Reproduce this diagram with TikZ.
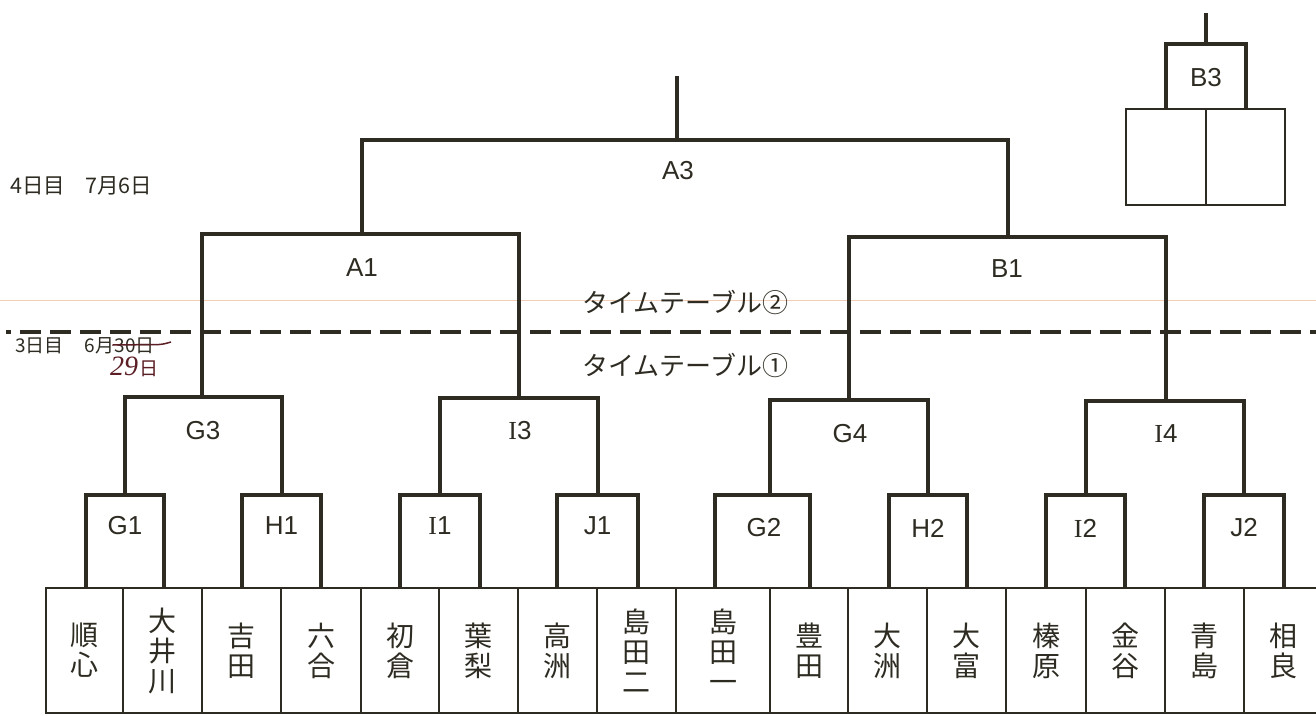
\documentclass[tikz,border=0pt]{standalone}
\usepackage{fontspec}
\newfontfamily\jpfont{Noto Sans CJK JP}
\newfontfamily\labfont{Liberation Sans}
\newfontfamily\labserif{Liberation Serif}
\definecolor{ink}{HTML}{2E2C22}
\definecolor{pen}{HTML}{5A1E24}
\definecolor{ruled}{HTML}{F2CDB4}
\begin{document}
\begin{tikzpicture}[x=1pt,y=-1pt,
  bracket/.style={draw=ink, line width=4pt, line join=miter},
  thinbox/.style={draw=ink, line width=1.8pt, inner sep=0pt},
  lab/.style={font=\labfont\fontsize{26}{26}\selectfont, text=ink, inner sep=0pt},
  team/.style={draw=ink, line width=1.8pt, minimum height=125pt, inner sep=0pt, align=center, text=ink, font=\jpfont\fontsize{28}{30}\selectfont},
  note/.style={font=\jpfont\fontsize{19}{19}\selectfont, text=ink, inner sep=0pt, anchor=west},
  ttl/.style={font=\jpfont\fontsize{26}{26}\selectfont, text=ink, inner sep=0pt, anchor=west}]
\useasboundingbox (0,0) rectangle (1316,715);
\fill[white] (0,0) rectangle (1316,715);
% faint ruled line of the paper
\draw[ruled, line width=1pt] (0,300) -- (1316,300);

% team boxes
\node[team, minimum width=77pt] (t1) at (84.5,650.5) {順\\心};
\node[team, minimum width=79pt] (t2) at (162.5,650.5) {大\\井\\川};
\node[team, minimum width=79pt] (t3) at (241.5,650.5) {吉\\田};
\node[team, minimum width=80pt] (t4) at (321,650.5) {六\\合};
\node[team, minimum width=78pt] (t5) at (400,650.5) {初\\倉};
\node[team, minimum width=79pt] (t6) at (478.5,650.5) {葉\\梨};
\node[team, minimum width=79pt] (t7) at (557.5,650.5) {高\\洲};
\node[team, minimum width=79pt] (t8) at (636.5,650.5) {島\\田\\二};
\node[team, minimum width=94pt] (t9) at (723,650.5) {島\\田\\一};
\node[team, minimum width=78pt] (t10) at (809,650.5) {豊\\田};
\node[team, minimum width=79pt] (t11) at (887.5,650.5) {大\\洲};
\node[team, minimum width=79pt] (t12) at (966.5,650.5) {大\\富};
\node[team, minimum width=80pt] (t13) at (1046,650.5) {榛\\原};
\node[team, minimum width=79pt] (t14) at (1125.5,650.5) {金\\谷};
\node[team, minimum width=79pt] (t15) at (1204.5,650.5) {青\\島};
\node[team, minimum width=78pt] (t16) at (1283,650.5) {相\\良};

% first-round boxes
\coordinate (G1l) at (86,588);   \coordinate (G1r) at (164,588);  \coordinate (G1s) at (125,495);
\coordinate (H1l) at (242,588);  \coordinate (H1r) at (321,588);  \coordinate (H1s) at (282,495);
\coordinate (I1l) at (400,588);  \coordinate (I1r) at (480,588);  \coordinate (I1s) at (440,495);
\coordinate (J1l) at (557,588);  \coordinate (J1r) at (638,588);  \coordinate (J1s) at (598,495);
\coordinate (G2l) at (715,588);  \coordinate (G2r) at (810,588);  \coordinate (G2s) at (770,495);
\coordinate (H2l) at (889,588);  \coordinate (H2r) at (967,588);  \coordinate (H2s) at (928,495);
\coordinate (I2l) at (1046,588); \coordinate (I2r) at (1125,588); \coordinate (I2s) at (1086,495);
\coordinate (J2l) at (1204,588); \coordinate (J2r) at (1284,588); \coordinate (J2s) at (1244,495);
\draw[bracket] (G1l) |- (G1s) -| (G1r);
\draw[bracket] (H1l) |- (H1s) -| (H1r);
\draw[bracket] (I1l) |- (I1s) -| (I1r);
\draw[bracket] (J1l) |- (J1s) -| (J1r);
\draw[bracket] (G2l) |- (G2s) -| (G2r);
\draw[bracket] (H2l) |- (H2s) -| (H2r);
\draw[bracket] (I2l) |- (I2s) -| (I2r);
\draw[bracket] (J2l) |- (J2s) -| (J2r);

% second round
\coordinate (G3s) at (202,397);
\coordinate (I3s) at (519,398);
\coordinate (G4s) at (849,400);
\coordinate (I4s) at (1166,401);
\draw[bracket] (G1s) |- (G3s) -| (H1s);
\draw[bracket] (I1s) |- (I3s) -| (J1s);
\draw[bracket] (G2s) |- (G4s) -| (H2s);
\draw[bracket] (I2s) |- (I4s) -| (J2s);

% semi-finals
\coordinate (A1s) at (362,234);
\coordinate (B1s) at (1008,237);
\draw[bracket] (G3s) |- (A1s) -| (I3s);
\draw[bracket] (G4s) |- (B1s) -| (I4s);

% final
\coordinate (A3s) at (677,140);
\coordinate (A3top) at (677,76);
\draw[bracket] (A1s) |- (A3s) -| (B1s);
\draw[bracket] (A3s) -- (A3top);

% B3 box top right
\coordinate (B3top) at (1206,13);
\coordinate (B3s) at (1206,44);
\coordinate (B3l) at (1166,109);
\coordinate (B3r) at (1246,109);
\node[thinbox, minimum width=80pt, minimum height=96pt] (b3a) at (1166,157) {};
\node[thinbox, minimum width=79pt, minimum height=96pt] (b3b) at (1245.5,157) {};
\draw[bracket] (B3top) -- (B3s);
\draw[bracket] (B3l) |- (B3s) -| (B3r);

% match labels
\node[lab] (A3) at (678,171) {A3};
\node[lab] (A1) at (362,268) {A1};
\node[lab] (B1) at (1007,269) {B1};
\node[lab] (G3) at (203,431) {G3};
\node[lab] (I3) at (520,431) {{\labserif I}3};
\node[lab] (G4) at (850,434) {G4};
\node[lab] (I4) at (1166,434) {{\labserif I}4};
\node[lab] (G1) at (125,526) {G1};
\node[lab] (H1) at (281.5,526) {H1};
\node[lab] (I1) at (440,526) {{\labserif I}1};
\node[lab] (J1) at (597.5,526) {J1};
\node[lab] (G2) at (764,528) {G2};
\node[lab] (H2) at (928,528) {H2};
\node[lab] (I2) at (1085.5,528) {{\labserif I}2};
\node[lab] (J2) at (1244,528) {J2};
\node[lab] (B3) at (1206,78) {B3};

% day separator
\draw[ink, line width=4pt] (6,332) -- (11,332);
\draw[ink, line width=4pt, dash pattern=on 21pt off 9pt] (20,332) -- (1316,332);

% notes
\node[note, font=\jpfont\fontsize{21.5}{21.5}\selectfont] (day4) at (10,186) {4日目\hspace{20pt}7月6日};
\node[note] (day3) at (15,346) {3日目\hspace{21pt}6月};
\node[note] (day3old) at (day3.east) {30日};
\draw[pen, line width=1.5pt] ([xshift=-2pt,yshift=1pt]day3old.west) -- ([xshift=4pt,yshift=1.5pt]day3old.east)
  .. controls ([xshift=9pt,yshift=2pt]day3old.east) .. ([xshift=16pt,yshift=4pt]day3old.east);
\node[anchor=west, inner sep=0pt, text=pen] (day3new) at (110,367)
  {{\labserif\itshape\fontsize{28}{28}\selectfont 29}\,{\jpfont\fontsize{19}{19}\selectfont 日}};

\node[ttl] (tt2) at (582,302) {タイムテーブル②};
\node[ttl] (tt1) at (582,365) {タイムテーブル①};
\end{tikzpicture}
\end{document}
